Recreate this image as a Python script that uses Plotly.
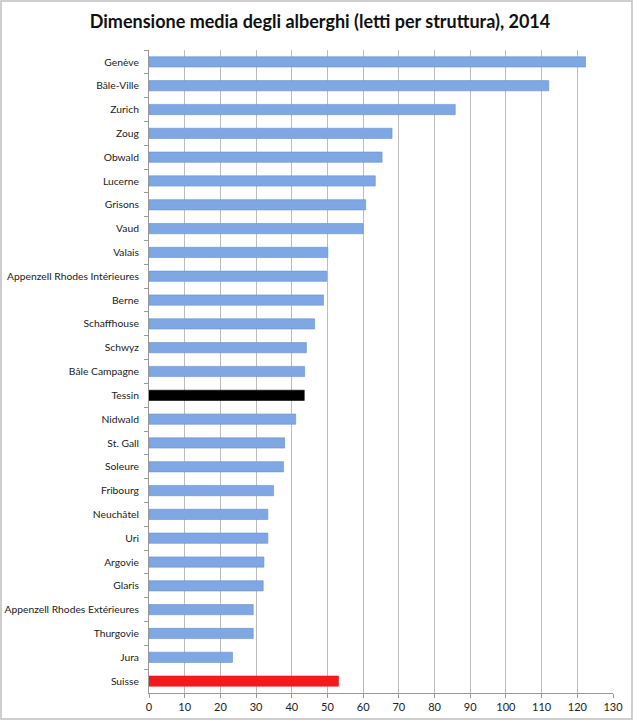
import plotly.graph_objects as go

categories = ["Genève", "Bâle-Ville", "Zurich", "Zoug", "Obwald", "Lucerne", "Grisons", "Vaud",
              "Valais", "Appenzell Rhodes Intérieures", "Berne", "Schaffhouse", "Schwyz",
              "Bâle Campagne", "Tessin", "Nidwald", "St. Gall", "Soleure", "Fribourg",
              "Neuchâtel", "Uri", "Argovie", "Glaris", "Appenzell Rhodes Extérieures",
              "Thurgovie", "Jura", "Suisse"]
values = [122.3, 112.0, 85.8, 68.1, 65.3, 63.4, 60.7, 60.0,
          50.1, 49.8, 48.9, 46.4, 44.1,
          43.6, 43.5, 41.1, 38.0, 37.7, 34.9,
          33.3, 33.3, 32.2, 32.0, 29.2,
          29.2, 23.4, 53.1]
x_ticks = list(range(0, 131, 10))

BLUE = "#7EA7E4"
colors = []
lines = []
for c in categories:
    if c == "Tessin":
        colors.append("#000000"); lines.append("#000000")
    elif c == "Suisse":
        colors.append("#F21A1D"); lines.append("#F21A1D")
    else:
        colors.append(BLUE); lines.append("#6690D2")

fig = go.Figure(go.Bar(
    x=values, y=categories, orientation="h",
    marker=dict(color=colors, line=dict(color=lines, width=0.6)),
    hoverinfo="x+y",
))

W, H = 636, 721
ml, mr, mt, mb = 149, 23, 50, 28
pw, ph = W - ml - mr, H - mt - mb

fig.update_layout(
    width=W, height=H,
    margin=dict(l=ml, r=mr, t=mt, b=mb, autoexpand=False),
    paper_bgcolor="white", plot_bgcolor="white",
    bargap=0.57,
    showlegend=False,
    title=dict(text="<b>Dimensione media degli alberghi (letti per struttura), 2014</b>",
               x=(320 - ml) / pw, xref="paper", xanchor="center", y=1 - 22 / H, yanchor="middle",
               font=dict(family="Lato", size=18, color="#111111")),
    font=dict(family="Lato", size=11, color="#222222"),
    xaxis=dict(range=[0, 130], tickvals=x_ticks, showgrid=True, gridcolor="#BDBDBD",
               gridwidth=1, zeroline=False, showline=True, linecolor="#999999",
               ticks="outside", ticklen=4, tickcolor="#999999", automargin=False,
               tickfont=dict(size=11, color="#222222"), fixedrange=True),
    yaxis=dict(autorange="reversed", showline=True, linecolor="#999999",
               ticks="outside", ticklen=4, tickcolor="#999999", tickson="boundaries",
               showgrid=False, automargin=False, ticklabelstandoff=7,
               tickfont=dict(size=10.3, color="#222222"), fixedrange=True),
    shapes=[dict(type="rect", xref="paper", yref="paper",
                 x0=(1 - ml) / pw, x1=(632 - ml) / pw,
                 y0=(H - 719 - mb) / ph, y1=(H - 1 - mb) / ph,
                 line=dict(color="#BFBFBF", width=1.5), fillcolor="rgba(0,0,0,0)")],
)

fig.write_html("out.html")
